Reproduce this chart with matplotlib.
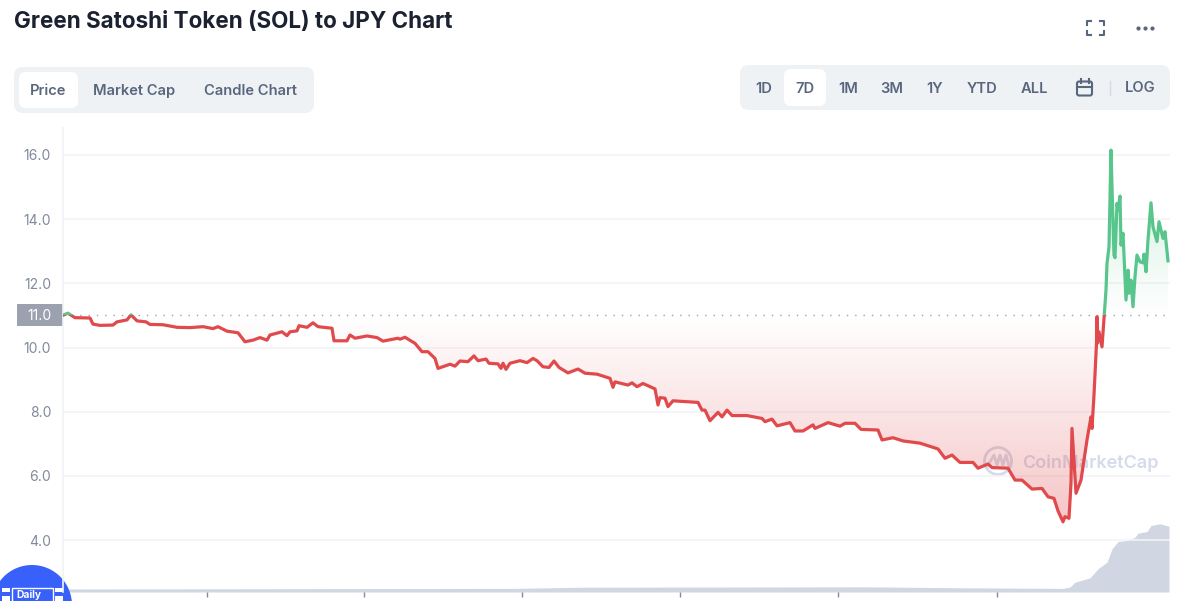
import numpy as np
import matplotlib
matplotlib.use("Agg")
import matplotlib.pyplot as plt
from matplotlib.patches import FancyBboxPatch, Rectangle, Circle
from matplotlib.path import Path

plt.rcParams["font.family"] = ["Inter", "DejaVu Sans"]

W, H = 1200, 601

# price series, x is in chart steps (158 steps = one tick)
price_x = [0, 5, 12, 27, 30, 37, 50, 54, 64, 68, 74, 83, 87, 100, 114, 127, 140, 150, 155, 164,
           175, 182, 190, 197, 204, 207, 219, 224, 227, 234, 236, 244, 250, 255, 269, 271, 284,
           287, 292, 304, 314, 320, 335,
           337, 342, 352, 359, 365, 372, 375, 387, 392, 397, 405, 411, 415, 423, 426, 435, 438,
           440, 443, 447, 457, 464, 470, 474, 480, 486, 491, 496, 505, 515, 522, 534, 547, 550,
           552, 565, 569, 574, 580, 592, 595, 597, 602, 605, 610, 635, 639, 642, 647,
           655, 659, 664, 669, 684, 699, 702, 709, 714, 727, 732, 740, 750, 752, 765, 777, 782,
           792, 798, 815, 819, 830, 840, 857, 875, 882, 889, 897, 910, 915, 925, 929, 945, 952,
           959, 969, 979, 985, 991, 995, 1000, 1002, 1006, 1008, 1009, 1013, 1018, 1024, 1028,
           1029, 1031, 1033.5, 1034, 1034.5, 1036, 1039, 1041, 1043, 1044, 1046, 1048, 1049, 1051,
           1052, 1054, 1055, 1057, 1058, 1060, 1063, 1065, 1066, 1068, 1070, 1072, 1074, 1077,
           1080, 1081, 1083, 1085, 1088, 1090, 1094, 1096, 1100, 1102, 1105]
price = [11.01, 11.07, 10.93, 10.92, 10.73, 10.69, 10.70, 10.80, 10.86, 11.02, 10.83, 10.80, 10.72,
         10.71, 10.63, 10.62, 10.65, 10.59, 10.65, 10.51, 10.46, 10.18, 10.23, 10.31, 10.23, 10.39,
         10.49, 10.37, 10.49, 10.52, 10.68, 10.63, 10.77, 10.65, 10.60, 10.21, 10.21, 10.39, 10.29,
         10.36, 10.31, 10.20, 10.29,
         10.26, 10.32, 10.13, 9.87, 9.87, 9.66, 9.35, 9.48, 9.42, 9.58, 9.56, 9.74, 9.59, 9.64,
         9.51, 9.49, 9.35, 9.51, 9.32, 9.51, 9.59, 9.53, 9.66, 9.59, 9.40, 9.38, 9.58, 9.38, 9.21,
         9.33, 9.20, 9.17, 9.04, 8.76, 8.93, 8.83, 8.90, 8.78, 8.88, 8.71, 8.21, 8.44, 8.42, 8.16,
         8.34, 8.29, 8.05, 8.05, 7.72,
         7.98, 7.84, 8.05, 7.88, 7.88, 7.79, 7.69, 7.77, 7.56, 7.66, 7.40, 7.40, 7.59, 7.48, 7.66,
         7.55, 7.64, 7.64, 7.45, 7.43, 7.12, 7.19, 7.09, 7.02, 6.84, 6.55, 6.65, 6.42, 6.42, 6.24,
         6.37, 6.26, 6.24, 5.87, 5.87, 5.59, 5.61, 5.35, 5.30, 4.91, 4.57, 4.73, 4.68, 5.77, 7.48,
         5.46, 5.87, 7.12, 7.84, 7.48, 8.52, 10.13, 10.96, 10.14, 10.49, 10.02, 10.91, 11.79,
         12.62, 13.14, 16.15, 15.01, 12.88, 12.80, 14.49, 14.28, 14.72, 13.19, 13.56, 11.48, 12.41,
         11.69, 12.10, 11.27, 12.21, 12.88, 12.67, 12.64, 12.91, 12.36, 13.35, 14.51, 13.76, 13.30,
         13.92, 13.40, 13.61, 12.70]

# volume, only relative height matters
volume_x = [0, 150, 300, 450, 520, 700, 800, 900, 1000, 1007, 1012, 1027, 1035, 1044, 1049, 1055,
            1064, 1072, 1075, 1084, 1088, 1097, 1106]
volume = [3.0, 3.2, 3.4, 3.6, 4.8, 5.0, 5.2, 4.2, 3.6, 5.0, 9.8, 14.2, 23.2, 29.8, 43.2, 50.5,
          51.5, 54.8, 58.8, 60.5, 66.5, 68.2, 65.8]

baseline = 11.0
y_ticks = [4, 6, 8, 10, 12, 14, 16]
x_ticks = [144, 301, 459, 617, 775, 934]
tabs_left = ["Price", "Market Cap", "Candle Chart"]
tabs_left_x = [48, 134.5, 250.5]
tabs_right = ["1D", "7D", "1M", "3M", "1Y", "YTD", "ALL"]
tabs_right_x = [764, 805, 848, 892, 935, 982, 1034]

GREEN = "#58c58c"
RED = "#e04a4c"
TEXT = "#58667e"
GRID = "#f3f4f6"


def round_box(ax, x0, y0, x1, y1, color, radius=8, zorder=1):
    ax.add_patch(FancyBboxPatch((x0 + radius, y0 + radius), x1 - x0 - 2 * radius, y1 - y0 - 2 * radius,
                                boxstyle=f"round,pad={radius},rounding_size={radius}",
                                fc=color, ec="none", zorder=zorder))


fig = plt.figure(figsize=(W / 100, H / 100), dpi=100, facecolor="white")

# chart axes sit at x 63..1170 px, y 128..592 px
ax = fig.add_axes([63 / W, 1 - 592 / H, 1107 / W, 464 / H])
ax.set_xlim(0, 1107)
ax.set_ylim(2.383, 16.84)
ax.set_yticks(y_ticks)
ax.set_yticklabels([f"{v:.1f}" for v in y_ticks], fontsize=10, color="#808a9d")
ax.set_xticks(x_ticks)
ax.set_xticklabels([])
ax.tick_params(axis="y", length=0, pad=8.5)
ax.tick_params(axis="x", length=3.5, width=1, color="#808a9d")
ax.grid(axis="y", color=GRID, lw=1.2)
ax.set_axisbelow(True)
for side in ["top", "right", "bottom"]:
    ax.spines[side].set_visible(False)
ax.spines["left"].set_color("#f1f2f5")
ax.spines["left"].set_linewidth(1.2)

# volume behind the price
vol_ax = ax.twinx()
vol_ax.set_ylim(0, 464)
vol_ax.axis("off")
vol_ax.fill_between(volume_x, volume, color="#d1d6e3", lw=0, zorder=1)
ax.set_zorder(vol_ax.get_zorder() + 1)
ax.patch.set_visible(False)

# area between price and baseline, red below and green above
grad_y = np.linspace(2.383, 16.84, 400)
rgba = np.zeros((400, 1, 4))
below = grad_y < baseline
rgba[below, 0, :3] = (0.88, 0.25, 0.27)
rgba[below, 0, 3] = np.clip((baseline - grad_y[below]) / 6.4, 0, 1) * 0.30
rgba[~below, 0, :3] = (0.25, 0.72, 0.47)
rgba[~below, 0, 3] = np.clip((grad_y[~below] - baseline) / 3.0, 0, 1) * 0.15
im = ax.imshow(rgba, origin="lower", aspect="auto", extent=(0, 1107, 2.383, 16.84), zorder=1.5)
verts = [(price_x[0], baseline)] + list(zip(price_x, price)) + [(price_x[-1], baseline), (price_x[0], baseline)]
im.set_clip_path(Path(verts), ax.transData)

ax.axhline(baseline, color="#9aa0ae", lw=1, dashes=(1, 5), zorder=2)

# one line per colour, each clipped to its side of the baseline
line_up, = ax.plot(price_x, price, color=GREEN, lw=2.3, solid_joinstyle="round", zorder=3)
line_dn, = ax.plot(price_x, price, color=RED, lw=2.3, solid_joinstyle="round", zorder=3)
line_up.set_clip_path(Rectangle((0, baseline), 1107, 10, transform=ax.transData))
line_dn.set_clip_path(Rectangle((0, 0), 1107, baseline, transform=ax.transData))
ax.set_xlim(0, 1107)
ax.set_ylim(2.383, 16.84)

# page furniture in pixel coordinates
ui = fig.add_axes([0, 0, 1, 1])
ui.set_xlim(0, W)
ui.set_ylim(H, 0)
ui.axis("off")

ui.text(14, 22, "Green Satoshi Token (SOL) to JPY Chart", fontsize=16.15, fontweight="bold",
        color="#1b2130", va="center")

round_box(ui, 14, 67, 314, 113, "#eff2f5", radius=9)
round_box(ui, 19, 72, 78, 108, "white", radius=7, zorder=2)
for label, x in zip(tabs_left, tabs_left_x):
    ui.text(x, 91, label, fontsize=10.6, fontweight="semibold", color=TEXT, ha="center", va="center", zorder=3)

round_box(ui, 740, 65, 1170, 110, "#eff2f5", radius=9)
round_box(ui, 784, 69, 826, 106, "white", radius=7, zorder=2)
for label, x in zip(tabs_right, tabs_right_x):
    ui.text(x, 89, label, fontsize=10.6, fontweight="semibold", color=TEXT, ha="center", va="center", zorder=3)
ui.text(1140, 88.5, "LOG", fontsize=10.6, fontweight="semibold", color=TEXT, ha="center", va="center", zorder=3)
ui.plot([1109.5, 1109.5], [81, 95], color="#d5dae5", lw=1, zorder=3)

# calendar icon
ui.add_patch(FancyBboxPatch((1077, 81.5), 15, 14, boxstyle="round,pad=0,rounding_size=2",
                            fc="none", ec=TEXT, lw=1.5, zorder=3))
ui.plot([1077, 1092], [86.5, 86.5], color=TEXT, lw=1.5, zorder=3)
ui.plot([1080.5, 1080.5], [79, 83], color=TEXT, lw=1.5, zorder=3)
ui.plot([1088.5, 1088.5], [79, 83], color=TEXT, lw=1.5, zorder=3)

# fullscreen corners
for cx, cy, dx, dy in [(1087, 21, 1, 1), (1104, 21, -1, 1), (1087, 35, 1, -1), (1104, 35, -1, -1)]:
    ui.plot([cx + 4 * dx, cx, cx], [cy, cy, cy + 4 * dy], color=TEXT, lw=1.5)
# more dots
ui.scatter([1138, 1145, 1152], [28, 28, 28], s=9, color=TEXT, lw=0)

# current price tag
ui.add_patch(Rectangle((17, 304), 46, 22, fc="#9ba1af", ec="none", zorder=3))
ui.text(40, 316, "11.0", fontsize=10, color="white", ha="center", va="center", zorder=4)

# watermark
wm = "#cdd6e6"
ui.add_patch(Circle((998, 461), 13.5, fc="none", ec=wm, lw=2, alpha=0.85, zorder=5))
ui.plot([987, 994, 997, 1000, 1003, 1006, 1009], [467, 455, 465, 455, 465, 455, 466], color=wm, lw=2,
        alpha=0.85, zorder=5)
ui.text(1022, 463, "CoinMarketCap", fontsize=13, fontweight="semibold", color=wm, alpha=0.85,
        va="center", zorder=5)

# daily badge
ui.add_patch(Circle((32, 605), 40, fc="#3861fb", ec="none", zorder=6))
for x in [2, 55]:
    ui.add_patch(Rectangle((x, 588), 8, 4, fc="white", ec="none", zorder=7))
    ui.add_patch(Rectangle((x, 596), 8, 5, fc="white", ec="none", zorder=7))
ui.add_patch(Rectangle((12, 587.5), 41, 14, fc="#3861fb", ec="white", lw=1, zorder=7))
ui.text(29, 595.5, "Daily", fontsize=7.4, fontweight="bold", color="white", ha="center", va="center", zorder=8)

fig.savefig("out.png", dpi=100)
plt.close(fig)
